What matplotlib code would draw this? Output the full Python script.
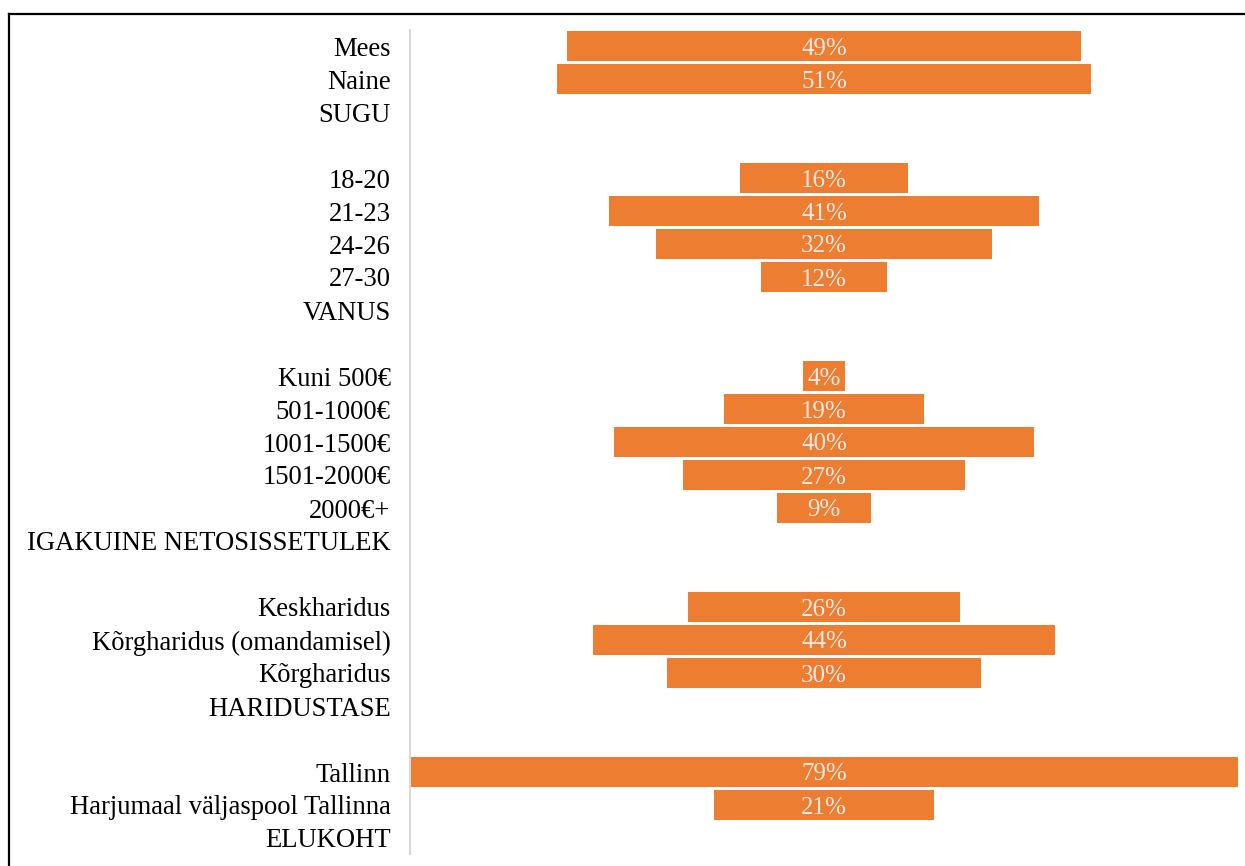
import matplotlib
matplotlib.use("Agg")
import matplotlib.pyplot as plt
from matplotlib.lines import Line2D

plt.rcParams['font.family'] = ['Liberation Serif', 'DejaVu Serif']

# vastajate jaotus gruppide kaupa (%)
sugu_labels = ["Mees", "Naine"]
sugu = [49, 51]
vanus_labels = ["18-20", "21-23", "24-26", "27-30"]
vanus = [16, 41, 32, 12]
sissetulek_labels = ["Kuni 500€", "501-1000€", "1001-1500€", "1501-2000€", "2000€+"]
sissetulek = [4, 19, 40, 27, 9]
haridus_labels = ["Keskharidus", "Kõrgharidus (omandamisel)", "Kõrgharidus"]
haridus = [26, 44, 30]
elukoht_labels = ["Tallinn", "Harjumaal väljaspool Tallinna"]
elukoht = [79, 21]

groups = [
    ("SUGU", sugu_labels, sugu),
    ("VANUS", vanus_labels, vanus),
    ("IGAKUINE NETOSISSETULEK", sissetulek_labels, sissetulek),
    ("HARIDUSTASE", haridus_labels, haridus),
    ("ELUKOHT", elukoht_labels, elukoht),
]

# ridade loend: kategooriad, grupi pealkiri, tühi rida vahele
labels = []
values = []
for i, (title, lab, val) in enumerate(groups):
    labels += lab
    values += val
    labels.append(title)
    values.append(None)
    if i < len(groups) - 1:
        labels.append("")
        values.append(None)

fig = plt.figure(figsize=(12.45, 8.66), dpi=100)
ax = fig.add_axes([410 / 1245, 1 - 854.5 / 866, 828 / 1245, 825 / 866])

orange = "#ED7D31"
for y, v in enumerate(values):
    if v is None:
        continue
    ax.barh(y, v, left=-v / 2, height=0.93, color=orange)
    ax.text(0, y, f"{v}%", ha="center", va="center_baseline",
            color="#ece8e4", fontsize=18)

ax.set_xlim(-39.5, 39.5)
ax.set_ylim(len(labels) - 0.5, -0.5)
ax.set_yticks(range(len(labels)))
ax.set_yticklabels(labels, fontsize=19.2)
ax.tick_params(axis="y", length=0, pad=14)
ax.set_xticks([])
for s in ["top", "right", "bottom"]:
    ax.spines[s].set_visible(False)
ax.spines["left"].set_color("#d9d9d9")
ax.spines["left"].set_linewidth(1.5)

# raam vasakul ja üleval
fig.add_artist(Line2D([9 / 1245, 1], [1 - 14 / 866, 1 - 14 / 866], color="black", lw=1.6))
fig.add_artist(Line2D([9 / 1245, 9 / 1245], [0, 1 - 14 / 866], color="black", lw=1.6))

fig.savefig("out.png", dpi=100)
